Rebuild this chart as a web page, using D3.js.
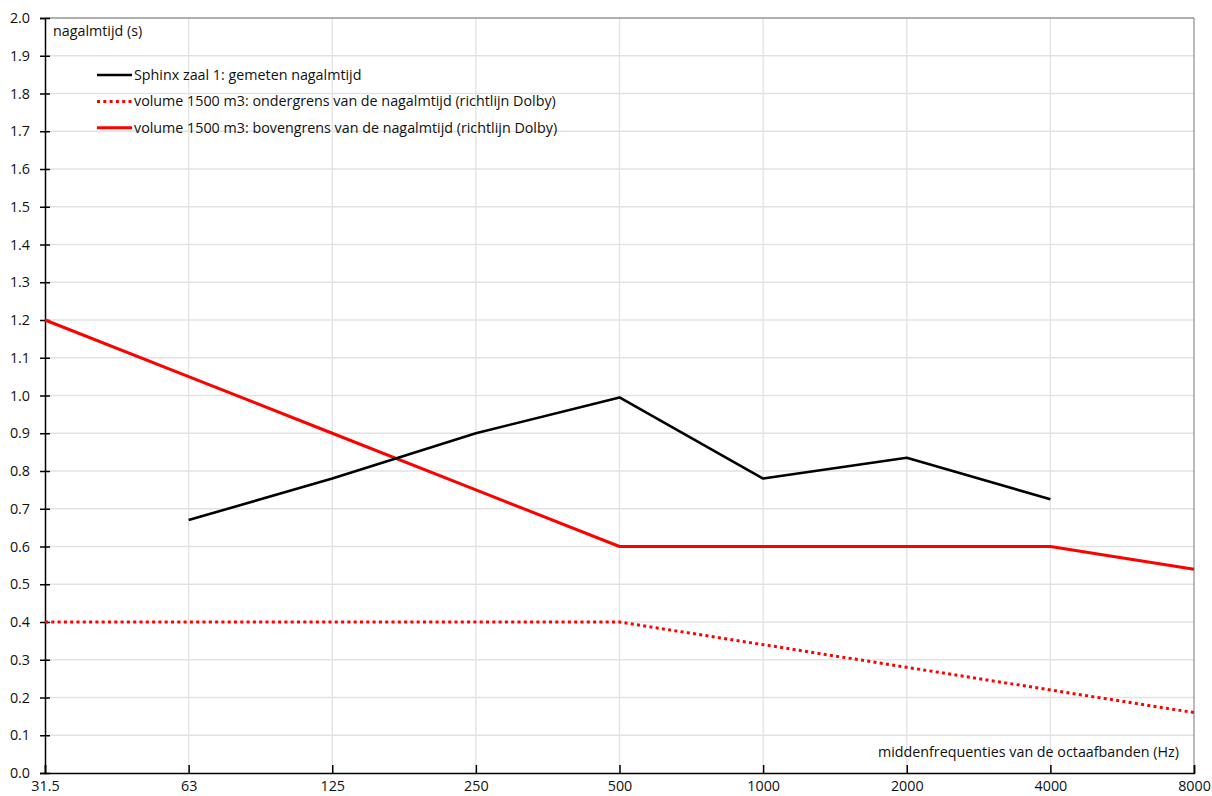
<!DOCTYPE html>
<html>
<head>
<meta charset="utf-8">
<script src="https://cdn.jsdelivr.net/npm/d3@7"></script>
<style>
  html, body { margin: 0; padding: 0; background: #fff; }
  svg text { font-family: "Open Sans", "Noto Sans", sans-serif; fill: #111; }
</style>
</head>
<body>
<svg id="chart" width="1212" height="796"></svg>
<script>
// Octave band centre frequencies (Hz)
const bands = ["31.5", "63", "125", "250", "500", "1000", "2000", "4000", "8000"];

// Measured reverberation time, Sphinx zaal 1 (no value at 31.5 and 8000 Hz)
const measured = [null, 0.67, 0.78, 0.90, 0.995, 0.78, 0.835, 0.725, null];

// Dolby guideline for a 1500 m3 room
const lowerLimit = [0.40, 0.40, 0.40, 0.40, 0.40, 0.34, 0.28, 0.22, 0.16];
const upperLimit = [1.20, 1.05, 0.90, 0.75, 0.60, 0.60, 0.60, 0.60, 0.54];

const yTicks = d3.range(0, 21).map(i => i / 10);

const seriesNames = [
  "Sphinx zaal 1: gemeten nagalmtijd",
  "volume 1500 m3: ondergrens van de nagalmtijd (richtlijn Dolby)",
  "volume 1500 m3: bovengrens van de nagalmtijd (richtlijn Dolby)"
];

const FS = 14.3;
const margin = { left: 45, right: 18, top: 18, bottom: 23 };
const W = 1212, H = 796;
const svg = d3.select("#chart");

const x = d3.scalePoint().domain(bands).range([margin.left, W - margin.right]);
const y = d3.scaleLinear().domain([0, 2]).range([H - margin.bottom, margin.top]);

// gridlines
const grid = svg.append("g");
grid.selectAll("line.h").data(yTicks.slice(1)).join("line")
  .attr("x1", margin.left).attr("x2", W - margin.right)
  .attr("y1", d => y(d)).attr("y2", d => y(d))
  .attr("stroke", "#e2e2e2").attr("stroke-width", 1.3);
grid.selectAll("line.v").data(bands.slice(1, -1)).join("line")
  .attr("x1", d => x(d)).attr("x2", d => x(d))
  .attr("y1", margin.top).attr("y2", H - margin.bottom)
  .attr("stroke", "#e2e2e2").attr("stroke-width", 1.3);

// frame (top and right)
svg.append("path")
  .attr("d", `M${margin.left},${margin.top}H${W - margin.right}V${H - margin.bottom}`)
  .attr("fill", "none").attr("stroke", "#777").attr("stroke-width", 1);

// y axis
const yAxis = svg.append("g")
  .attr("transform", `translate(${margin.left},0)`)
  .call(d3.axisLeft(y).tickValues(yTicks).tickFormat(d3.format(".1f")).tickSize(5).tickPadding(10));
yAxis.select(".domain").attr("stroke", "#000").attr("stroke-width", 1.5);
yAxis.selectAll(".tick line").attr("stroke", "#000").attr("stroke-width", 1.5).attr("x2", 5).attr("x1", -5);
yAxis.selectAll(".tick text").attr("font-size", FS).attr("fill", "#111")
  .attr("font-family", "'Open Sans', sans-serif").attr("x", -15);

// x axis
const xAxis = svg.append("g")
  .attr("transform", `translate(0,${H - margin.bottom})`)
  .call(d3.axisBottom(x).tickSize(-8).tickPadding(5));
xAxis.select(".domain").attr("stroke", "#000").attr("stroke-width", 1.5);
xAxis.selectAll(".tick line").attr("stroke", "#000").attr("stroke-width", 1.5);
xAxis.selectAll(".tick text").attr("font-size", FS).attr("fill", "#111")
  .attr("font-family", "'Open Sans', sans-serif").attr("y", 8);

// axis titles
svg.append("text").attr("x", 53).attr("y", 36).attr("font-size", FS).text("nagalmtijd (s)");
svg.append("text").attr("x", W - margin.right - 15).attr("y", 757).attr("text-anchor", "end")
  .attr("font-size", FS).text("middenfrequenties van de octaafbanden (Hz)");

const line = d3.line()
  .defined(d => d.v != null)
  .x(d => x(d.b)).y(d => y(d.v));
const pts = arr => arr.map((v, i) => ({ b: bands[i], v }));

const styles = [
  { data: measured, color: "#000", width: 2.6, dash: null },
  { data: lowerLimit, color: "#ff0000", width: 3, dash: "3 3.3" },
  { data: upperLimit, color: "#ff0000", width: 3, dash: null }
];

// draw series (upper, lower, then measured on top)
[2, 1, 0].forEach(i => {
  const s = styles[i];
  svg.append("path")
    .attr("d", line(pts(s.data)))
    .attr("fill", "none")
    .attr("stroke", s.color)
    .attr("stroke-width", s.width)
    .attr("stroke-dasharray", s.dash)
    .attr("stroke-linejoin", "round");
});

// legend
const legend = svg.append("g");
const legendY = [75, 101.5, 127.7];
seriesNames.forEach((name, i) => {
  const s = styles[i];
  legend.append("line")
    .attr("x1", 97).attr("x2", 132).attr("y1", legendY[i]).attr("y2", legendY[i])
    .attr("stroke", s.color).attr("stroke-width", s.width)
    .attr("stroke-dasharray", s.dash);
  legend.append("text").attr("x", 134).attr("y", legendY[i] + 4.8)
    .attr("font-size", FS).text(name);
});
</script>
</body>
</html>
